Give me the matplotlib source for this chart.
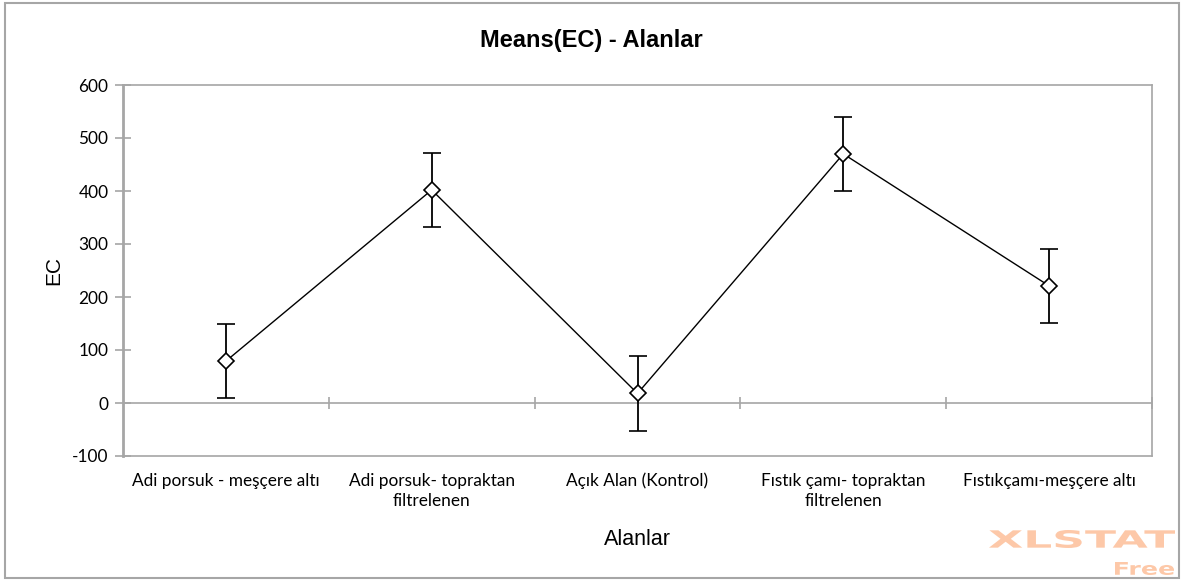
import matplotlib.pyplot as plt
import matplotlib.patches as mpatches
from matplotlib.textpath import TextPath
from matplotlib.font_manager import FontProperties
from matplotlib.transforms import Affine2D
import numpy as np

categories = ["Adi porsuk - meşçere altı", "Adi porsuk- topraktan\nfiltrelenen",
              "Açık Alan (Kontrol)", "Fıstık çamı- topraktan\nfiltrelenen",
              "Fıstıkçamı-meşçere altı"]
means = [79, 402, 18, 470, 221]
err = [70, 70, 70, 70, 70]
yticks = [-100, 0, 100, 200, 300, 400, 500, 600]

grey = '#a6a6a6'
plt.rcParams['axes.unicode_minus'] = False

fig = plt.figure(figsize=(11.82, 5.81), dpi=100)
ax = fig.add_axes([123/1182, 1 - 456/581, (1152-123)/1182, (456-85)/581])

x = np.arange(len(categories))
ax.errorbar(x, means, yerr=err, color='black', linewidth=1,
            elinewidth=1.3, capsize=6.5, capthick=1.3,
            marker='D', markersize=8, markerfacecolor='white',
            markeredgecolor='black', markeredgewidth=1.2, zorder=3)

# horizontal line at zero with ticks between categories
ax.axhline(0, color=grey, linewidth=1.2, zorder=1)
bounds = np.arange(len(categories)) + 0.5
ax.plot(bounds, np.zeros_like(bounds), linestyle='none', marker='|',
        markersize=9, markeredgewidth=1.2, color=grey, zorder=1, clip_on=False)

ax.set_xlim(-0.5, len(categories) - 0.5)
ax.set_ylim(-100, 600)
ax.set_yticks(yticks)
ax.set_xticks(x)
ax.set_xticklabels(categories, family='Lato', fontsize=12.4, linespacing=1.3,
                   verticalalignment='top')
for lbl in ax.get_yticklabels():
    lbl.set_family('Lato')
    lbl.set_fontsize(12.4)
ax.tick_params(axis='x', length=0, pad=12)
ax.tick_params(axis='y', direction='inout', length=11, width=1.2,
               color=grey, pad=5)
for s in ax.spines.values():
    s.set_color(grey)
    s.set_linewidth(1.2)
ax.spines['left'].set_linewidth(2)

ax.set_ylabel('EC', family='Liberation Sans', fontsize=15, labelpad=6)
ax.set_xlabel('Alanlar', family='Liberation Sans', fontsize=15.5, labelpad=15)
fig.suptitle('Means(EC) - Alanlar', x=0.5, y=1 - 40/581, va='center',
             family='Liberation Sans', fontsize=17, fontweight='bold')

# outer frame
fig.patches.append(mpatches.Rectangle((5/1182, 3/581), 1174/1182, 575/581,
                                      transform=fig.transFigure, fill=False,
                                      edgecolor=grey, linewidth=1.5))


# watermark, stretched to fill a box given in pixels (x0, y0 from bottom)
def stamp(text, x0, y0, w, h):
    tp = TextPath((0, 0), text, size=10,
                  prop=FontProperties(family='DejaVu Sans', weight='bold'))
    ext = tp.get_extents()
    tr = (Affine2D().translate(-ext.x0, -ext.y0)
          .scale(w / ext.width, h / ext.height).translate(x0, y0))
    fig.patches.append(mpatches.PathPatch(tp, transform=tr, facecolor='#fdc8a8',
                                          edgecolor='none'))


stamp('XLSTAT', 989, 581 - 548, 186, 18)
stamp('Free', 1115, 581 - 575, 59, 13)

fig.savefig('out.png', dpi=100)
